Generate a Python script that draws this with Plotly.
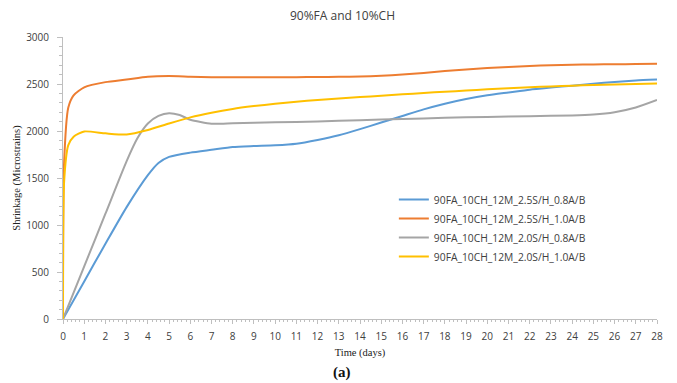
import plotly.graph_objects as go

# ---- data ----
days = [0, 0.05, 0.25, 0.5, 1, 2, 3, 4, 5, 6, 7, 8, 9, 10, 11, 12, 13, 14, 15, 16,
        17, 18, 19, 20, 21, 22, 23, 24, 25, 26, 27, 28]

blue_days = [0, 1, 2, 3, 4, 4.5, 5, 6, 7, 8, 9, 10, 11, 12, 13, 14, 15, 16, 17, 18,
             19, 20, 21, 22, 23, 24, 25, 26, 27, 28]
blue_vals = [0, 400, 800, 1190, 1530, 1660, 1725, 1770, 1800, 1830, 1840, 1848, 1865, 1905,
             1955, 2020, 2090, 2160, 2230, 2290, 2340, 2380, 2410, 2440, 2462, 2482,
             2502, 2522, 2538, 2548]

orange_vals = [0, 1650, 2250, 2380, 2465, 2520, 2548, 2578, 2585, 2578, 2572, 2572, 2572,
               2573, 2573, 2574, 2576, 2580, 2588, 2600, 2618, 2638, 2655, 2670, 2682,
               2692, 2700, 2705, 2708, 2710, 2712, 2715]

gray_days = [0, 1, 2, 3, 3.5, 4, 4.5, 5, 5.5, 6, 7, 8, 10, 12, 14, 16, 18, 20, 22, 24,
             25, 26, 27, 28]
gray_vals = [0, 560, 1120, 1680, 1920, 2080, 2160, 2190, 2170, 2120, 2078, 2082, 2092,
             2102, 2115, 2128, 2140, 2150, 2158, 2165, 2175, 2200, 2250, 2330]

yellow_vals = [0, 1450, 1850, 1940, 1995, 1975, 1962, 2010, 2080, 2145, 2195, 2235, 2265,
               2290, 2312, 2330, 2346, 2361, 2375, 2390, 2404, 2418, 2430, 2443, 2454,
               2465, 2474, 2482, 2489, 2494, 2499, 2505]

series_names = ["90FA_10CH_12M_2.5S/H_0.8A/B", "90FA_10CH_12M_2.5S/H_1.0A/B",
                "90FA_10CH_12M_2.0S/H_0.8A/B", "90FA_10CH_12M_2.0S/H_1.0A/B"]
colors = ["#5B9BD5", "#ED7D31", "#A5A5A5", "#FFC000"]

x_ticks = list(range(0, 29))
y_ticks = [0, 500, 1000, 1500, 2000, 2500, 3000]

fig = go.Figure()
series = [(blue_days, blue_vals), (days, orange_vals), (gray_days, gray_vals), (days, yellow_vals)]
for (xs, ys), name, c in zip(series, series_names, colors):
    fig.add_trace(go.Scatter(x=xs, y=ys, mode="lines", name=name,
                             line=dict(color=c, width=2, shape="spline", smoothing=0.6)))

axis_font = dict(family="Open Sans, Lato, sans-serif", size=10, color="#404040")
serif = "Liberation Serif, Times New Roman, serif"
# page body adds an 8px offset, so the figure is drawn 8px smaller
fig.update_layout(
    width=669, height=375,
    margin=dict(l=55, r=20, t=29, b=64, autoexpand=False),
    paper_bgcolor="white", plot_bgcolor="white",
    title=dict(text="90%FA and 10%CH", x=0.5, xanchor="center", y=0.99, yanchor="top",
               font=dict(family="Open Sans, Lato, sans-serif", size=12, color="#404040")),
    xaxis=dict(range=[0, 28], tickvals=x_ticks, showgrid=False, zeroline=False,
               automargin=False, showline=True, linecolor="#BFBFBF", linewidth=1,
               ticks="outside", ticklen=4, tickcolor="#BFBFBF", tickfont=axis_font,
               ticklabelstandoff=4,
               minor=dict(ticks="outside", dtick=0.2, ticklen=2, tickcolor="#BFBFBF"),
               title=dict(text="Time (days)", standoff=6,
                          font=dict(family=serif, size=10.5, color="#222"))),
    yaxis=dict(range=[0, 3000], tickvals=y_ticks, showgrid=False, zeroline=False,
               automargin=False, showline=True, linecolor="#BFBFBF", linewidth=1,
               ticks="outside", ticklen=5, tickcolor="#BFBFBF", tickfont=axis_font,
               ticklabelstandoff=6,
               minor=dict(ticks="outside", dtick=100, ticklen=3, tickcolor="#BFBFBF"),
               title=dict(text="Shrinkage (Microstrains)", standoff=3,
                          font=dict(family=serif, size=10.5, color="#222"))),
    legend=dict(x=0.557, y=0.475, xanchor="left", yanchor="top",
                bgcolor="rgba(0,0,0,0)", font=dict(family="Open Sans, Lato, sans-serif", size=10.3, color="#404040"),
                itemwidth=30, tracegroupgap=0),
    showlegend=True,
)
fig.add_annotation(text="<b>(a)</b>", xref="paper", yref="paper", x=0.47, y=-0.19,
                   xanchor="center", yanchor="middle", showarrow=False,
                   font=dict(family=serif, size=15, color="#111"))

fig.write_html("out.html")
